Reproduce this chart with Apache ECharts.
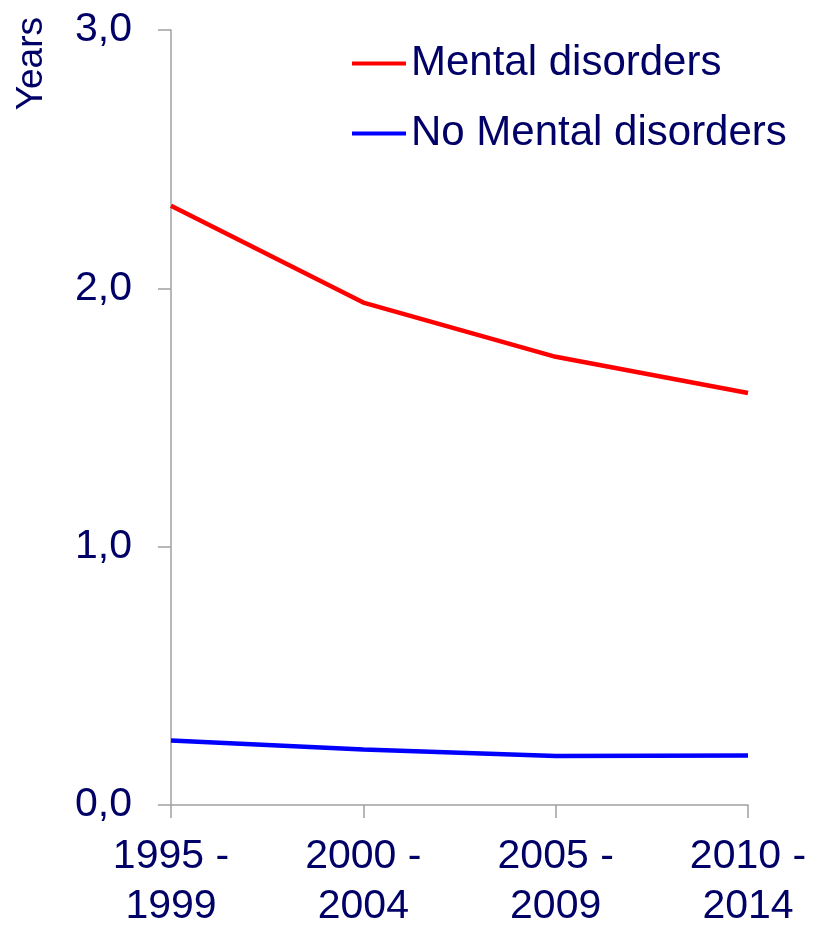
<!DOCTYPE html>
<html>
<head>
<meta charset="utf-8">
<script src="https://cdn.jsdelivr.net/npm/echarts@6/dist/echarts.min.js"></script>
<style>html,body{margin:0;padding:0;background:#fff}#c{width:813px;height:932px}</style>
</head>
<body>
<div id="c"></div>
<script>
const categories = ['1995 -\n1999', '2000 -\n2004', '2005 -\n2009', '2010 -\n2014'];
const mentalDisorders = [2.32, 1.945, 1.735, 1.595];
const noMentalDisorders = [0.25, 0.215, 0.19, 0.192];
const seriesNames = ['Mental disorders', 'No Mental disorders'];
const yAxisTitle = 'Years';

const textColor = '#000066';
const axisColor = '#A0A0A0';
const font = 'Liberation Sans, Arial, sans-serif';

const chart = echarts.init(document.getElementById('c'), null, {renderer: 'canvas'});
chart.setOption({
  animation: false,
  backgroundColor: '#fff',
  grid: {left: 171, right: 65, top: 30, bottom: 119, containLabel: false},
  legend: {
    orient: 'vertical', left: 347, top: 35, itemWidth: 54, itemHeight: 4, itemGap: 23,
    icon: 'rect',
    textStyle: {color: textColor, fontSize: 42, fontFamily: font, lineHeight: 47},
    data: seriesNames
  },
  graphic: [{
    type: 'text', left: 13, top: 17, rotation: Math.PI / 2,
    style: {text: yAxisTitle, fill: textColor, font: '37px Liberation Sans, Arial, sans-serif'}
  }],
  xAxis: {
    type: 'category', data: categories, boundaryGap: false,
    axisLine: {lineStyle: {color: axisColor, width: 1.5}},
    axisTick: {show: true, length: 13, alignWithLabel: true, lineStyle: {color: axisColor, width: 1.5}},
    axisLabel: {color: textColor, fontSize: 41, fontFamily: font, lineHeight: 50, margin: 27, interval: 0},
    splitLine: {show: false}
  },
  yAxis: {
    type: 'value', min: 0, max: 3, interval: 1,
    axisLine: {show: true, lineStyle: {color: axisColor, width: 1.5}},
    axisTick: {show: true, length: 13, lineStyle: {color: axisColor, width: 1.5}},
    axisLabel: {color: textColor, fontSize: 41, fontFamily: font, margin: 39,
      formatter: v => v.toFixed(1).replace('.', ',')},
    splitLine: {show: false}
  },
  series: [
    {name: seriesNames[0], type: 'line', data: mentalDisorders, symbol: 'none',
     lineStyle: {color: '#FF0000', width: 4.5}, itemStyle: {color: '#FF0000'}},
    {name: seriesNames[1], type: 'line', data: noMentalDisorders, symbol: 'none',
     lineStyle: {color: '#0000FF', width: 4.5}, itemStyle: {color: '#0000FF'}}
  ]
});
</script>
</body>
</html>
